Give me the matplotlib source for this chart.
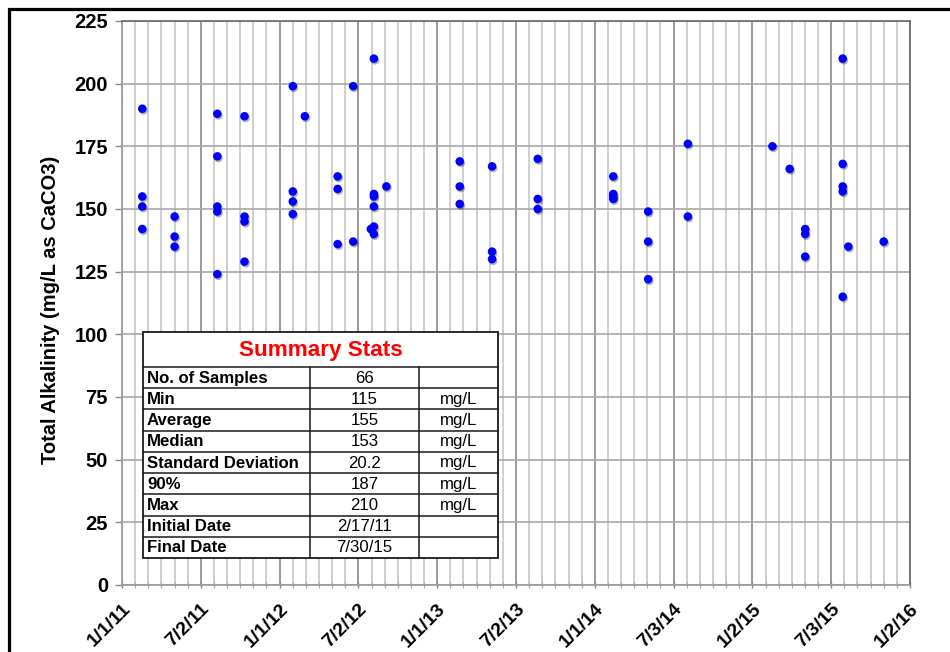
import matplotlib
matplotlib.use("Agg")
import matplotlib.pyplot as plt
import matplotlib.dates as mdates
import matplotlib.patheffects as pe
from matplotlib.patches import Rectangle
from datetime import datetime

plt.rcParams['font.family'] = ['Liberation Sans', 'DejaVu Sans']

# ---- sampling data -------------------------------------------------------
sample_dates = [
    "2011-02-17", "2011-05-03", "2011-08-10", "2011-10-12", "2012-02-01",
    "2012-02-29", "2012-05-15", "2012-06-20", "2012-07-31", "2012-08-07",
    "2012-09-05", "2013-02-22", "2013-05-08", "2013-08-22", "2014-02-13",
    "2014-05-05", "2014-08-05", "2015-02-17", "2015-03-29", "2015-05-04",
    "2015-07-30", "2015-08-12", "2015-11-02",
]
alkalinity = [
    [190, 155, 151, 142],
    [147, 139, 135],
    [188, 171, 151, 149, 124],
    [187, 147, 145, 129],
    [199, 157, 153, 148],
    [187],
    [163, 158, 136],
    [199, 137],
    [142],
    [210, 156, 155, 151, 143, 140],
    [159],
    [169, 159, 152],
    [167, 133, 130],
    [170, 154, 150],
    [163, 156, 155, 154],
    [149, 137, 122],
    [176, 147],
    [175],
    [166],
    [142, 140, 131],
    [210, 168, 159, 157, 115],
    [135],
    [137],
]

x_tick_labels = ["1/1/11", "7/2/11", "1/1/12", "7/2/12", "1/1/13", "7/2/13",
                 "1/1/14", "7/3/14", "1/2/15", "7/3/15", "1/2/16"]
y_ticks = [0, 25, 50, 75, 100, 125, 150, 175, 200, 225]

stat_labels = ["No. of Samples", "Min", "Average", "Median", "Standard Deviation",
               "90%", "Max", "Initial Date", "Final Date"]
stat_values = ["66", "115", "155", "153", "20.2", "187", "210", "2/17/11", "7/30/15"]
stat_units = ["", "mg/L", "mg/L", "mg/L", "mg/L", "mg/L", "mg/L", "", ""]

# ---- figure ----------------------------------------------------------------
W, H = 950, 652
fig = plt.figure(figsize=(W / 100, H / 100), dpi=100)
fig.patch.set_facecolor("white")
ax = fig.add_axes([122 / W, 1 - 585 / H, (910 - 122) / W, (585 - 21) / H])

xs, ys = [], []
for d, vals in zip(sample_dates, alkalinity):
    dt = mdates.date2num(datetime.strptime(d, "%Y-%m-%d"))
    for v in vals:
        xs.append(dt)
        ys.append(v)

sc = ax.scatter(xs, ys, s=38, color="#0000ff", edgecolors="none", zorder=5)
sc.set_path_effects([pe.SimplePatchShadow(offset=(0.8, -1.2), shadow_rgbFace="#000000", alpha=0.3),
                     pe.Normal()])

# date axis: major every ~half-year, minor monthly
start = mdates.date2num(datetime(2011, 1, 1))
step = 182.7
n_major = len(x_tick_labels) - 1
ax.set_xlim(start, start + step * n_major)
major_pos = [start + step * i for i in range(n_major + 1)]
minor_pos = [start + step * i / 6 for i in range(n_major * 6 + 1)]
ax.set_xticks(major_pos)
ax.set_xticklabels(x_tick_labels, rotation=45, ha="right", va="top",
                   rotation_mode="anchor", fontsize=14, fontweight="bold")
ax.set_xticks(minor_pos, minor=True)

ax.set_ylim(0, 225)
ax.set_yticks(y_ticks)
ax.set_yticklabels([str(t) for t in y_ticks], fontsize=14.5, fontweight="bold")

ax.grid(which="minor", axis="x", color="#cfcfcf", linewidth=1.4, zorder=0)
ax.grid(which="major", axis="x", color="#9a9a9a", linewidth=1.4, zorder=0)
ax.grid(which="major", axis="y", color="#a8a8a8", linewidth=1.2, zorder=0)
ax.set_axisbelow(True)

ax.tick_params(axis="y", which="major", length=5, width=1, color="#888888", pad=5)
ax.tick_params(axis="x", which="major", length=4, width=1, color="#888888", pad=9,
               direction="inout")
ax.tick_params(axis="x", which="minor", length=4, width=0.8, color="#aaaaaa",
               direction="inout")

for side in ["top", "right"]:
    ax.spines[side].set_color("#666666")
    ax.spines[side].set_linewidth(1.2)
for side in ["left", "bottom"]:
    ax.spines[side].set_color("#999999")
    ax.spines[side].set_linewidth(1.2)

ax.set_ylabel("Total Alkalinity (mg/L as CaCO3)", fontsize=14.5, fontweight="bold")
ax.yaxis.set_label_coords(-0.079, 0.487)

# ---- overlay in pixel coordinates: outer frame + summary table -------------
ov = fig.add_axes([0, 0, 1, 1], zorder=10)
ov.set_xlim(0, W)
ov.set_ylim(H, 0)
ov.axis("off")
ov.patch.set_alpha(0)

ov.plot([9, 9, W + 5], [H + 5, 9, 9], color="black", linewidth=2.3,
        solid_joinstyle="miter")

tx0, tx1 = 143, 498
col1, col2 = 310, 419
ty0, ty_title = 332, 367
row_h = (558 - ty_title) / len(stat_labels)
ty1 = ty_title + row_h * len(stat_labels)

ov.add_patch(Rectangle((tx0, ty0), tx1 - tx0, ty1 - ty0, facecolor="white",
                       edgecolor="#1a1a1a", linewidth=1.3))
line_kw = dict(color="#1a1a1a", linewidth=1.1)
ov.plot([tx0, tx1], [ty_title, ty_title], **line_kw)
for i in range(1, len(stat_labels)):
    yy = ty_title + row_h * i
    ov.plot([tx0, tx1], [yy, yy], **line_kw)
for xx in (col1, col2):
    ov.plot([xx, xx], [ty_title, ty1], **line_kw)

ov.text((tx0 + tx1) / 2, (ty0 + ty_title) / 2 + 1, "Summary Stats", color="#ff0000",
        fontsize=16.2, fontweight="bold", ha="center", va="center")
for i, (lab, val, unit) in enumerate(zip(stat_labels, stat_values, stat_units)):
    yc = ty_title + row_h * (i + 0.5) + 0.5
    ov.text(tx0 + 4, yc, lab, fontsize=12.1, fontweight="bold", ha="left", va="center")
    ov.text((col1 + col2) / 2, yc, val, fontsize=12.1, ha="center", va="center")
    if unit:
        ov.text((col2 + tx1) / 2, yc, unit, fontsize=12.1, ha="center", va="center")

fig.savefig("out.png", dpi=100)
